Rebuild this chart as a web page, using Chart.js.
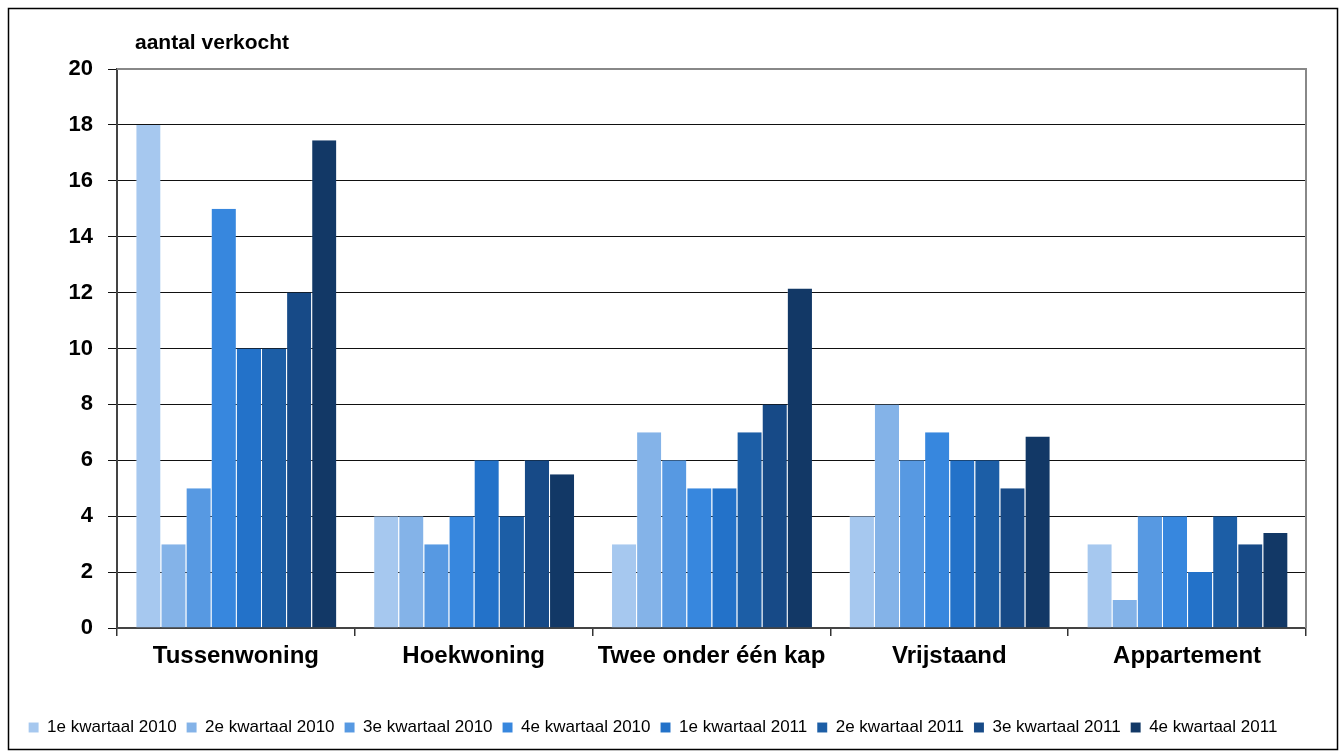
<!DOCTYPE html>
<html>
<head>
<meta charset="utf-8">
<script src="https://cdn.jsdelivr.net/npm/chart.js@4"></script>
<style>
  html, body { margin: 0; padding: 0; background: #fff; }
  #wrap { width: 1340px; height: 753px; }
</style>
</head>
<body>
<div id="wrap"><canvas id="myChart" width="1340" height="753"></canvas></div>
<script>
// woningtypes
const categorieen = ['Tussenwoning', 'Hoekwoning', 'Twee onder één kap', 'Vrijstaand', 'Appartement'];
const kwartalen = ['1e kwartaal 2010', '2e kwartaal 2010', '3e kwartaal 2010', '4e kwartaal 2010',
                   '1e kwartaal 2011', '2e kwartaal 2011', '3e kwartaal 2011', '4e kwartaal 2011'];
const kleuren = ['#a6c8ef', '#84b3e8', '#5799e2', '#3787de', '#2372c9', '#1c5ea6', '#174a87', '#123866'];

// aantallen per kwartaal (volgorde = categorieen)
const k1_2010 = [18, 4, 3, 4, 3];
const k2_2010 = [3, 4, 7, 8, 1];
const k3_2010 = [5, 3, 6, 6, 4];
const k4_2010 = [15, 4, 5, 7, 4];
const k1_2011 = [10, 6, 5, 6, 2];
const k2_2011 = [10, 4, 7, 6, 4];
const k3_2011 = [12, 6, 8, 5, 3];
const k4_2011 = [17.45, 5.5, 12.15, 6.85, 3.4];

const yTicks = [0, 2, 4, 6, 8, 10, 12, 14, 16, 18, 20];

const reeksen = [k1_2010, k2_2010, k3_2010, k4_2010, k1_2011, k2_2011, k3_2011, k4_2011];

const FONT = "'Liberation Sans', Arial, sans-serif";

// rand om de hele grafiek + titel linksboven
const extras = {
  id: 'extras',
  afterDraw(chart) {
    const ctx = chart.ctx;
    const a = chart.chartArea;
    ctx.save();
    ctx.strokeStyle = '#000';
    ctx.lineWidth = 1.5;
    ctx.strokeRect(8.5, 8.5, 1329, 741);
    // plot kader rechts/boven grijs
    ctx.strokeStyle = '#888';
    ctx.lineWidth = 2;
    ctx.beginPath();
    ctx.moveTo(a.left, a.top);
    ctx.lineTo(a.right, a.top);
    ctx.lineTo(a.right, a.bottom);
    ctx.stroke();
    ctx.fillStyle = '#000';
    ctx.font = 'bold 21px ' + FONT;
    ctx.textBaseline = 'middle';
    ctx.fillText('aantal verkocht', 135, 43);
    ctx.restore();
  }
};

const config = {
  type: 'bar',
  data: {
    labels: categorieen,
    datasets: reeksen.map((d, i) => ({
      label: kwartalen[i],
      data: d,
      backgroundColor: kleuren[i],
      borderColor: 'rgba(255,255,255,0.25)',
      borderWidth: { left: 1 },
      categoryPercentage: 0.845,
      barPercentage: 1
    }))
  },
  options: {
    responsive: false,
    animation: false,
    layout: { padding: { left: 0, right: 34, top: 69, bottom: 7 } },
    scales: {
      x: {
        grid: { offset: true, drawOnChartArea: false, color: '#333', tickLength: 8, lineWidth: 1.5 },
        border: { color: '#444', width: 2 },
        ticks: { color: '#000', font: { family: FONT, size: 24, weight: 'bold' }, padding: 6 },
        afterFit: s => { s.height = 81; }
      },
      y: {
        min: 0, max: 20,
        afterBuildTicks: s => { s.ticks = yTicks.map(v => ({ value: v })); },
        grid: { color: '#111', lineWidth: 1, tickLength: 9 },
        border: { color: '#444', width: 2 },
        ticks: { color: '#000', font: { family: FONT, size: 22, weight: 'bold' }, padding: 15 },
        afterFit: s => { s.width = 117; }
      }
    },
    plugins: {
      legend: {
        position: 'bottom',
        labels: {
          color: '#000',
          font: { family: FONT, size: 17 },
          boxWidth: 10, boxHeight: 10,
          padding: 10
        }
      },
      tooltip: { enabled: false }
    }
  },
  plugins: [extras]
};

var myChart = new Chart(document.getElementById('myChart'), config);
</script>
</body>
</html>
